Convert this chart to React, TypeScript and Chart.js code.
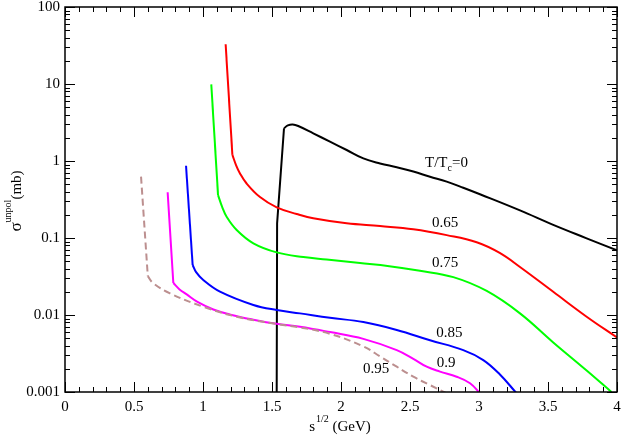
import React, { useEffect, useRef } from "react";
import { Chart, registerables } from "chart.js";

Chart.register(...registerables);

// T/Tc = 0
const blackX = [1.534, 1.537, 1.587, 1.615, 1.65, 1.69, 1.799, 1.92, 2.041, 2.162, 2.283, 2.404, 2.524, 2.645, 2.766, 2.886, 3.007, 3.297, 3.538, 3.78, 4.0];
const blackY = [0.001, 0.155, 2.66, 2.9, 2.98, 2.85, 2.29, 1.78, 1.39, 1.08, 0.93, 0.83, 0.73, 0.625, 0.54, 0.45, 0.37, 0.228, 0.148, 0.099, 0.069];
const blackCusp = 2;
// T/Tc = 0.65
const redX = [1.164, 1.213, 1.24, 1.268, 1.316, 1.413, 1.534, 1.679, 1.799, 2.041, 2.283, 2.524, 2.766, 2.983, 3.15, 3.297, 3.538, 3.78, 4.0];
const redY = [32.8, 1.2, 0.88, 0.69, 0.51, 0.34, 0.25, 0.205, 0.18, 0.155, 0.143, 0.13, 0.109, 0.088, 0.064, 0.042, 0.02, 0.0095, 0.0051];
const redCusp = 1;
// T/Tc = 0.75
const greenX = [1.06, 1.109, 1.14, 1.171, 1.244, 1.365, 1.534, 1.727, 1.896, 2.138, 2.35, 2.572, 2.814, 3.056, 3.297, 3.538, 3.78, 3.96];
const greenY = [9.9, 0.361, 0.25, 0.189, 0.127, 0.0853, 0.065, 0.0565, 0.0525, 0.0473, 0.043, 0.0375, 0.031, 0.0205, 0.0105, 0.0044, 0.0019, 0.001];
const greenCusp = 1;
// T/Tc = 0.85
const blueX = [0.877, 0.925, 0.95, 1.002, 1.123, 1.365, 1.534, 1.703, 1.92, 2.162, 2.404, 2.645, 2.886, 3.031, 3.15, 3.273];
const blueY = [0.869, 0.0446, 0.036, 0.0285, 0.0201, 0.0135, 0.0116, 0.0105, 0.0092, 0.0081, 0.0064, 0.0047, 0.0035, 0.0026, 0.0017, 0.00096];
const blueCusp = 1;
// T/Tc = 0.9
const magentaX = [0.744, 0.785, 0.83, 0.882, 0.96, 1.075, 1.2, 1.365, 1.534, 1.703, 1.92, 2.162, 2.404, 2.524, 2.621, 2.717, 2.838, 2.935, 3.007];
const magentaY = [0.393, 0.026, 0.0215, 0.0185, 0.0148, 0.0118, 0.0101, 0.0087, 0.00768, 0.00705, 0.006, 0.0049, 0.0035, 0.0027, 0.00213, 0.00184, 0.00158, 0.0013, 0.00096];
const magentaCusp = 1;
// T/Tc = 0.95
const brownX = [0.551, 0.6, 0.64, 0.761, 1.002, 1.244, 1.534, 1.703, 1.92, 2.162, 2.283, 2.404, 2.524, 2.645, 2.766];
const brownY = [0.626, 0.032, 0.0258, 0.0191, 0.0128, 0.0095, 0.00764, 0.0069, 0.0057, 0.0039, 0.0029, 0.00213, 0.00158, 0.00123, 0.00096];
const brownCusp = 1;

// curve labels: text, x, y (data coordinates)
const labelTexts = ["0.65", "0.75", "0.85", "0.9", "0.95"];
const labelX = [2.754, 2.754, 2.785, 2.761, 2.254];
const labelY = [0.155, 0.0469, 0.00589, 0.0024, 0.00197];
const topLabelX = 2.764;
const topLabelY = 0.95;

const xTickValues = [0, 0.5, 1, 1.5, 2, 2.5, 3, 3.5, 4];
const yTickValues = [0.001, 0.01, 0.1, 1, 10, 100];
const yTickLabels = ["0.001", "0.01", "0.1", "1", "10", "100"];

const FONT = "'Liberation Serif', 'DejaVu Serif', serif";

function pts(xs: number[], ys: number[]) {
  return xs.map((x, i) => ({ x, y: ys[i] }));
}

const framePlugin = {
  id: "frameTicks",
  afterDatasetsDraw(chart: any) {
    const { ctx, chartArea: a, scales } = chart;
    const xs = scales.x;
    const ys = scales.y;
    ctx.save();
    ctx.strokeStyle = "#000";
    ctx.lineWidth = 1;
    // x ticks
    for (let i = 0; i <= 40; i++) {
      const v = i / 10;
      const px = Math.round(xs.getPixelForValue(v)) + 0.5;
      const len = i % 5 === 0 ? 10 : 5;
      ctx.beginPath();
      ctx.moveTo(px, a.bottom);
      ctx.lineTo(px, a.bottom - len);
      ctx.moveTo(px, a.top);
      ctx.lineTo(px, a.top + len);
      ctx.stroke();
    }
    // y ticks
    for (let e = -3; e <= 2; e++) {
      for (let m = 1; m <= 9; m++) {
        const v = m * Math.pow(10, e);
        if (v > 100) break;
        const py = Math.round(ys.getPixelForValue(v)) + 0.5;
        const len = m === 1 ? 10 : 5;
        ctx.beginPath();
        ctx.moveTo(a.left, py);
        ctx.lineTo(a.left + len, py);
        ctx.moveTo(a.right, py);
        ctx.lineTo(a.right - len, py);
        ctx.stroke();
      }
    }
    ctx.lineWidth = 1.5;
    ctx.strokeRect(a.left, a.top, a.right - a.left, a.bottom - a.top);

    // curve labels
    ctx.fillStyle = "#000";
    ctx.textAlign = "center";
    ctx.textBaseline = "middle";
    ctx.font = `15px ${FONT}`;
    labelTexts.forEach((t, i) => {
      ctx.fillText(t, xs.getPixelForValue(labelX[i]), ys.getPixelForValue(labelY[i]));
    });
    // T/Tc=0 label with subscript
    const tx = xs.getPixelForValue(topLabelX);
    const ty = ys.getPixelForValue(topLabelY);
    ctx.textAlign = "left";
    const p1 = "T/T";
    const p3 = "=0";
    ctx.font = `10px ${FONT}`;
    const wSub = ctx.measureText("c").width;
    ctx.font = `15px ${FONT}`;
    const w1 = ctx.measureText(p1).width;
    const w3 = ctx.measureText(p3).width;
    let sx = tx - (w1 + wSub + w3) / 2;
    ctx.fillText(p1, sx, ty);
    sx += w1;
    ctx.font = `10px ${FONT}`;
    ctx.fillText("c", sx, ty + 6);
    sx += wSub;
    ctx.font = `15px ${FONT}`;
    ctx.fillText(p3, sx, ty);

    // x axis title: s^{1/2} (GeV)
    ctx.textBaseline = "alphabetic";
    const xa = "s";
    const xb = "1/2";
    const xc = " (GeV)";
    ctx.font = `15px ${FONT}`;
    const wa = ctx.measureText(xa).width;
    const wc = ctx.measureText(xc).width;
    ctx.font = `10px ${FONT}`;
    const wb = ctx.measureText(xb).width;
    const xCenter = 340;
    const xBase = 431;
    let cx = xCenter - (wa + wb + 1 + wc) / 2;
    ctx.font = `15px ${FONT}`;
    ctx.fillText(xa, cx, xBase);
    cx += wa + 1;
    ctx.font = `10px ${FONT}`;
    ctx.fillText(xb, cx, xBase - 9);
    cx += wb;
    ctx.font = `15px ${FONT}`;
    ctx.fillText(xc, cx, xBase);

    // y axis title: sigma^{unpol} (mb)
    ctx.translate(21, 201);
    ctx.rotate(-Math.PI / 2);
    const ya = "σ";
    const yb = "unpol";
    const yc = "(mb)";
    ctx.font = `17px ${FONT}`;
    const wya = ctx.measureText(ya).width;
    ctx.font = `10px ${FONT}`;
    const wyb = ctx.measureText(yb).width;
    ctx.font = `15px ${FONT}`;
    const wyc = ctx.measureText(yc).width;
    let cy = -(wya + wyb + wyc) / 2;
    ctx.font = `17px ${FONT}`;
    ctx.fillText(ya, cy, 0);
    cy += wya;
    ctx.font = `10px ${FONT}`;
    ctx.fillText(yb, cy, -10);
    cy += wyb;
    ctx.font = `15px ${FONT}`;
    ctx.fillText(yc, cy, 0);
    ctx.restore();
  },
};

export default function App() {
  const ref = useRef<HTMLCanvasElement>(null);
  useEffect(() => {
    if (!ref.current) return;
    const base = (color: string, dash: number[]) => ({
      borderColor: color,
      backgroundColor: color,
      borderWidth: 2,
      borderDash: dash,
      showLine: true,
      pointRadius: 0,
      fill: false,
    });
    // each curve: straight steep part up to the cusp, then a smooth tail
    const mk = (xs: number[], ys: number[], cusp: number, color: string, dash: number[] = []) => [
      { ...base(color, dash), data: pts(xs.slice(0, cusp + 1), ys.slice(0, cusp + 1)), tension: 0 },
      { ...base(color, dash), data: pts(xs.slice(cusp), ys.slice(cusp)), tension: 0.4 },
    ];
    const chart = new Chart(ref.current, {
      type: "scatter",
      data: {
        datasets: [
          ...mk(brownX, brownY, brownCusp, "#bc8f8f", [7, 4]),
          ...mk(magentaX, magentaY, magentaCusp, "#ff00ff"),
          ...mk(blueX, blueY, blueCusp, "#0000ff"),
          ...mk(greenX, greenY, greenCusp, "#00ff00"),
          ...mk(redX, redY, redCusp, "#ff0000"),
          ...mk(blackX, blackY, blackCusp, "#000000"),
        ],
      },
      options: {
        animation: false,
        responsive: false,
        maintainAspectRatio: false,
        devicePixelRatio: 1,
        layout: { padding: { top: 7, right: 5, left: 0, bottom: 0 } },
        plugins: { legend: { display: false }, tooltip: { enabled: false } },
        scales: {
          x: {
            type: "linear",
            min: 0,
            max: 4,
            afterFit: (s: any) => {
              s.height = 45;
              s.paddingLeft = 0;
              s.paddingRight = 0;
            },
            afterBuildTicks: (s: any) => {
              s.ticks = xTickValues.map((v) => ({ value: v }));
            },
            grid: { display: false, drawTicks: false },
            border: { display: false },
            ticks: {
              padding: 6,
              color: "#000",
              font: { family: FONT, size: 15 },
              maxRotation: 0,
              autoSkip: false,
              callback: (v: any) => String(v),
            },
          },
          y: {
            type: "logarithmic",
            min: 0.001,
            max: 100,
            afterFit: (s: any) => {
              s.width = 65;
              s.paddingTop = 0;
              s.paddingBottom = 0;
            },
            afterBuildTicks: (s: any) => {
              s.ticks = yTickValues.map((v) => ({ value: v }));
            },
            grid: { display: false, drawTicks: false },
            border: { display: false },
            ticks: {
              padding: 5,
              color: "#000",
              font: { family: FONT, size: 15 },
              autoSkip: false,
              callback: (v: any) => {
                const i = yTickValues.findIndex((t) => Math.abs(t - v) / t < 1e-6);
                return i >= 0 ? yTickLabels[i] : "";
              },
            },
          },
        },
      },
      plugins: [framePlugin],
    });
    return () => chart.destroy();
  }, []);
  return (
    <div style={{ position: "fixed", left: 0, top: 0, width: 622, height: 437, background: "#fff" }}>
      <canvas ref={ref} width={622} height={437} style={{ width: 622, height: 437 }} />
    </div>
  );
}
